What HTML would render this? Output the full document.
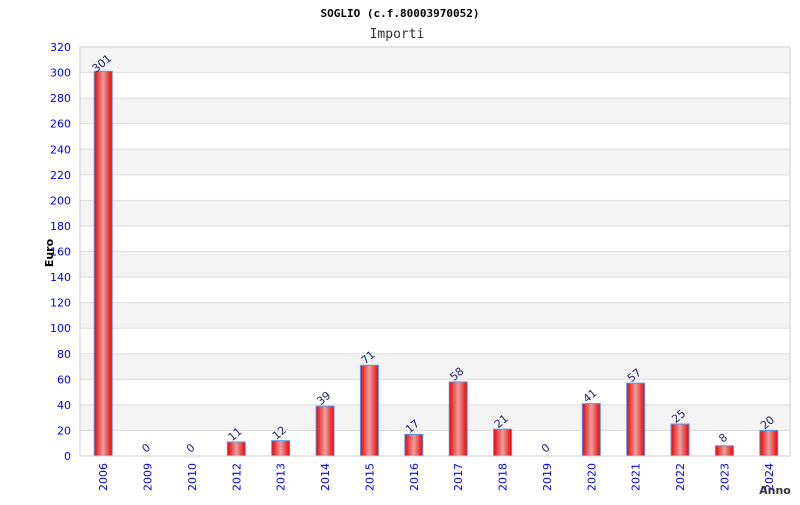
<!DOCTYPE html>
<html><head><meta charset="utf-8"><style>
body{margin:0;background:#fff;width:800px;height:500px;overflow:hidden}
text{font-family:"DejaVu Sans","Liberation Sans",sans-serif}
</style></head><body>
<svg id="c" width="800" height="500">
<defs><linearGradient id="g" x1="0" x2="1" y1="0" y2="0">
<stop offset="0" stop-color="#ee0000"/><stop offset="0.5" stop-color="#e8a0a0"/><stop offset="1" stop-color="#ee0000"/></linearGradient></defs>
<text x="400" y="17" text-anchor="middle" font-size="11" font-weight="bold" fill="#000" style="font-family:'DejaVu Sans Mono',monospace">SOGLIO (c.f.80003970052)</text>
<text x="397" y="38" text-anchor="middle" font-size="13" fill="#333" style="font-family:'DejaVu Sans Mono',monospace">Importi</text>
<g id="grid"></g><g id="bars"></g><g id="axes"></g>
<text x="53" y="253" text-anchor="middle" font-size="11" font-weight="bold" transform="rotate(-90 53 253)">Euro</text>
<text x="775" y="494" text-anchor="middle" font-size="11" font-weight="bold" fill="#333">Anno</text>
</svg>
<script>
const categories=["2006","2009","2010","2012","2013","2014","2015","2016","2017","2018","2019","2020","2021","2022","2023","2024"];
const values=[301,0,0,11,12,39,71,17,58,21,0,41,57,25,8,20];
const yTicks=[0,20,40,60,80,100,120,140,160,180,200,220,240,260,280,300,320];
const NS="http://www.w3.org/2000/svg";
const L=80,R=790,T=47,B=456,YMAX=320;
const y=v=>B-(v/YMAX)*(B-T);
const bw=(R-L)/categories.length;
const x=i=>L+1+bw*(i+0.5);
function mk(tag,attrs,parent,txt){const e=document.createElementNS(NS,tag);for(const k in attrs)e.setAttribute(k,attrs[k]);if(txt!==undefined)e.textContent=txt;document.getElementById(parent).appendChild(e);return e;}
for(let i=0;i<yTicks.length-1;i++){
 const r=mk('rect',{x:L,y:y(yTicks[i+1]),width:R-L,height:y(yTicks[i])-y(yTicks[i+1]),fill:(yTicks.length-2-i)%2===0?'#f3f3f3':'#ffffff'},'grid');
 
 
}
yTicks.forEach(t=>{
 const l=mk('line',{x1:L,x2:R,y1:y(t),y2:y(t),stroke:'#dddddd'},'grid');
 
 
 const tx=mk('text',{x:71,y:y(t)+4,'text-anchor':'end','font-size':11,fill:'#0000ee'},'axes',t);
 
 
});
mk('rect',{x:L,y:T,width:R-L,height:B-T,fill:'none',stroke:'#cccccc'},'axes');
categories.forEach((c,i)=>{
 const cx=x(i),v=values[i];
 if(v>0){const b=mk('rect',{x:cx-9,y:y(v),width:18,height:B-y(v),fill:'url(#g)',stroke:'#5599ee','stroke-width':1},'bars');
 
 }
 const vl=mk('text',{x:cx+1,y:y(v)-5,'text-anchor':'middle','font-size':11,fill:'#222266',transform:`rotate(-40 ${cx+1} ${y(v)-5})`},'bars',v);
 
 
 const xl=mk('text',{x:cx+4,y:463,'text-anchor':'end','font-size':11,fill:'#0000ee',transform:`rotate(-90 ${cx+4} 463)`},'axes',c);
 
 
});
</script>
</body></html>
